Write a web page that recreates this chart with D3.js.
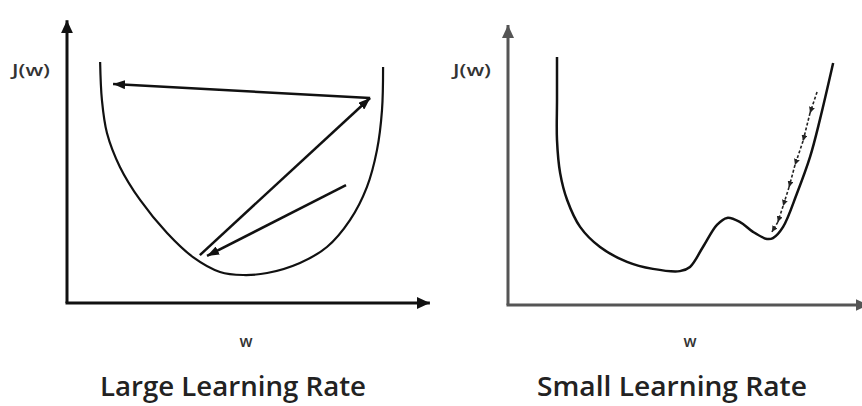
<!DOCTYPE html>
<html><head><meta charset="utf-8">
<script src="https://cdn.jsdelivr.net/npm/d3@7"></script>
<style>html,body{margin:0;padding:0;background:#fff;} svg{display:block;background:#fff}</style>
</head><body><svg id="chart" width="862" height="406"></svg>
<script>
// ---- data (abstract units: w on [0,10], J(w) on [0,10]) ----
const titles = ["Large Learning Rate", "Small Learning Rate"];
const xLabels = ["w", "w"];
const yLabels = ["J(w)", "J(w)"];

// Large learning rate: cost curve
const largeW = [0.92, 0.97, 1.11, 1.47, 2.03, 2.78, 3.50, 4.25, 4.89, 5.56, 6.47, 7.22, 7.86, 8.33, 8.61, 8.75, 8.78];
const largeJ = [8.61, 7.25, 6.07, 4.86, 3.68, 2.50, 1.64, 1.11, 1.00, 1.07, 1.43, 2.00, 2.96, 4.14, 5.46, 6.89, 8.43];
// Large learning rate: overshooting steps (from -> to)
const largeStepFromW = [7.75, 3.69, 8.42];
const largeStepFromJ = [4.21, 1.71, 7.32];
const largeStepToW   = [3.89, 8.42, 1.28];
const largeStepToJ   = [1.68, 7.32, 7.82];

// Small learning rate: cost curve
const smallW = [1.40, 1.40, 1.40, 1.49, 1.69, 2.06, 2.63, 3.40, 4.14, 4.91, 5.20, 5.57, 5.97, 6.26, 6.63, 7.00, 7.40, 7.57, 7.86, 8.26, 8.63, 8.91, 9.29];
const smallJ = [8.86, 7.32, 5.89, 4.71, 3.75, 2.79, 2.07, 1.54, 1.29, 1.21, 1.36, 2.07, 2.86, 3.11, 2.96, 2.61, 2.36, 2.39, 2.79, 4.00, 5.29, 6.61, 8.64];
// Small learning rate: tiny steps
const smallStepW = [8.83, 8.63, 8.43, 8.20, 8.03, 7.86, 7.71, 7.54];
const smallStepJ = [7.61, 6.86, 5.86, 5.00, 4.21, 3.54, 2.96, 2.61];

// ---- drawing ----
const svg = d3.select("#chart");
const defs = svg.append("defs");
function marker(id, len, half, color){
  defs.append("marker").attr("id", id)
    .attr("viewBox", `0 ${-half} ${len} ${2*half}`)
    .attr("refX", len).attr("refY", 0)
    .attr("markerUnits", "userSpaceOnUse")
    .attr("markerWidth", len).attr("markerHeight", 2*half)
    .attr("orient", "auto")
    .append("path").attr("d", `M0,${-half}L${len},0L0,${half}Z`).attr("fill", color);
}
marker("axisL", 13, 6, "#111");
marker("axisR", 13, 6, "#555");
marker("stepL", 12, 4.5, "#111");
marker("stepS", 6, 3, "#222");

const panels = [
  {x: d3.scaleLinear().domain([0,10]).range([67, 427]),
   y: d3.scaleLinear().domain([0,10]).range([303, 23]),
   axisColor: "#111", axisMarker: "axisL", xEnd: 10.08, yEnd: 10.1},
  {x: d3.scaleLinear().domain([0,10]).range([508, 858]),
   y: d3.scaleLinear().domain([0,10]).range([305, 25]),
   axisColor: "#555", axisMarker: "axisR", xEnd: 10.3, yEnd: 10}
];

const line = (p) => d3.line().x(d => p.x(d[0])).y(d => p.y(d[1])).curve(d3.curveCatmullRom.alpha(0.5));

panels.forEach((p, i) => {
  const g = svg.append("g");
  // axes
  g.append("line").attr("x1", p.x(0)).attr("y1", p.y(0)).attr("x2", p.x(0)).attr("y2", p.y(p.yEnd))
    .attr("stroke", p.axisColor).attr("stroke-width", 3).attr("marker-end", `url(#${p.axisMarker})`);
  g.append("line").attr("x1", p.x(0)-1.5).attr("y1", p.y(0)).attr("x2", p.x(p.xEnd)).attr("y2", p.y(0))
    .attr("stroke", p.axisColor).attr("stroke-width", 3).attr("marker-end", `url(#${p.axisMarker})`);
  // labels
  g.append("text").attr("x", i === 0 ? 12 : 453).attr("y", 76)
    .attr("font-family", "Open Sans").attr("font-size", 17).attr("font-weight", 600).attr("fill", "#333")
    .attr("textLength", 38).attr("lengthAdjust", "spacingAndGlyphs")
    .text(yLabels[i]);
  g.append("text").attr("x", i === 0 ? 246 : 690).attr("y", 347).attr("text-anchor", "middle")
    .attr("font-family", "Open Sans").attr("font-size", 16).attr("font-weight", 600).attr("fill", "#333")
    .text(xLabels[i]);
  g.append("text").attr("x", i === 0 ? 233 : 672).attr("y", 396).attr("text-anchor", "middle")
    .attr("font-family", "Open Sans").attr("font-size", 27).attr("font-weight", 600).attr("fill", "#222")
    .attr("textLength", i === 0 ? 266 : 270).attr("lengthAdjust", "spacingAndGlyphs")
    .text(titles[i]);
});

// left curve
const pL = panels[0];
svg.append("path").datum(largeW.map((w, k) => [w, largeJ[k]]))
  .attr("d", line(pL)).attr("fill", "none").attr("stroke", "#111").attr("stroke-width", 2.2);
largeStepFromW.forEach((w, k) => {
  svg.append("line")
    .attr("x1", pL.x(w)).attr("y1", pL.y(largeStepFromJ[k]))
    .attr("x2", pL.x(largeStepToW[k])).attr("y2", pL.y(largeStepToJ[k]))
    .attr("stroke", "#111").attr("stroke-width", 2.5).attr("marker-end", "url(#stepL)");
});

// right curve
const pR = panels[1];
svg.append("path").datum(smallW.map((w, k) => [w, smallJ[k]]))
  .attr("d", line(pR)).attr("fill", "none").attr("stroke", "#111").attr("stroke-width", 2.5);
for (let k = 0; k < smallStepW.length - 1; k++) {
  svg.append("line")
    .attr("x1", pR.x(smallStepW[k])).attr("y1", pR.y(smallStepJ[k]))
    .attr("x2", pR.x(smallStepW[k+1])).attr("y2", pR.y(smallStepJ[k+1]))
    .attr("stroke", "#222").attr("stroke-width", 1.6).attr("stroke-dasharray", "3,2")
    .attr("marker-end", "url(#stepS)");
}
</script>
</body></html>
